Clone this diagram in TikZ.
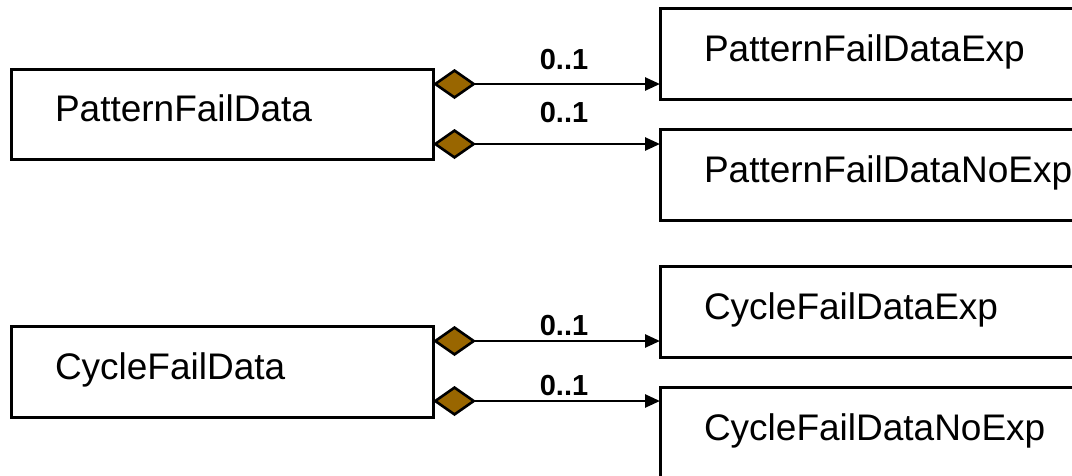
\documentclass[tikz,border=0pt]{standalone}
\usepackage{fontspec}
\setmainfont{Liberation Sans}
\usetikzlibrary{arrows.meta}
\definecolor{aggbrown}{RGB}{153,102,0}
\begin{document}
\begin{tikzpicture}[x=1pt,y=-1pt,
  cls/.style={draw, line width=3pt, rectangle, anchor=north west, outer sep=0pt,
    inner xsep=44pt, inner ysep=0pt, align=left, text height=27pt, text depth=12pt,
    font=\fontsize{37}{44}\selectfont},
  leftcls/.style={cls, text width=334pt},
  rightcls/.style={cls, text width=420pt},
  assoc/.style={line width=2.6pt,
    {Diamond[fill=aggbrown, length=43pt, width=30pt]}-{Triangle[length=15pt, width=13pt]}},
  mult/.style={font=\bfseries\fontsize{29}{34}\selectfont, inner sep=0pt}]
\useasboundingbox (0,0) rectangle (1072,475);
\clip (0,0) rectangle (1072,475);
\node[leftcls, minimum height=90pt] (pfd) at (11,69) {PatternFailData};
\node[leftcls, minimum height=91pt] (cfd) at (11,326) {CycleFailData};
\node[rightcls, minimum height=91pt] (pfe) at (660,8) {PatternFailDataExp};
\node[rightcls, minimum height=91pt] (pfne) at (660,129) {PatternFailDataNoExp};
\node[rightcls, minimum height=91pt] (cfe) at (660,266) {CycleFailDataExp};
\node[rightcls, minimum height=91pt] (cfne) at (660,387) {CycleFailDataNoExp};
\draw[assoc] (pfd.east |- 0,84) -- (pfe.west |- 0,84);
\draw[assoc] (pfd.east |- 0,144) -- (pfne.west |- 0,144);
\draw[assoc] (cfd.east |- 0,341) -- (cfe.west |- 0,341);
\draw[assoc] (cfd.east |- 0,401) -- (cfne.west |- 0,401);
\node[mult] (m1) at (564,60) {0..1};
\node[mult] (m2) at (564,113) {0..1};
\node[mult] (m3) at (564,326) {0..1};
\node[mult] (m4) at (564,386) {0..1};
\end{tikzpicture}
\end{document}
